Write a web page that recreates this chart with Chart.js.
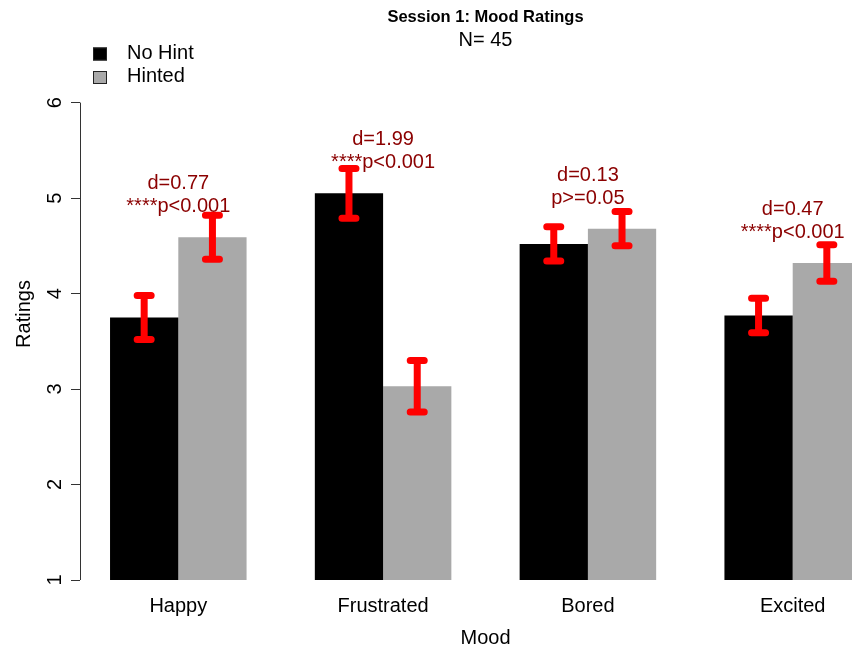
<!DOCTYPE html>
<html>
<head>
<meta charset="utf-8">
<title>Session 1: Mood Ratings</title>
<script src="https://cdn.jsdelivr.net/npm/chart.js@4/dist/chart.umd.min.js"></script>
<style>
  html, body { margin: 0; padding: 0; background: #ffffff; overflow: hidden; width: 852px; height: 650px; }
  #wrap { width: 900px; height: 650px; }
  canvas { display: block; }
</style>
</head>
<body>
<div id="wrap"><canvas id="chart" width="900" height="650"></canvas></div>
<script>
// ---- data ----
const categories   = ['Happy', 'Frustrated', 'Bored', 'Excited'];
const seriesLabels = ['No Hint', 'Hinted'];
const noHintMeans  = [3.75, 5.05, 4.52, 3.77];
const hintedMeans  = [4.59, 3.03, 4.68, 4.32];
const noHintSE     = [0.23, 0.26, 0.18, 0.18];
const hintedSE     = [0.23, 0.27, 0.18, 0.19];
const effectSizes  = ['0.77', '1.99', '0.13', '0.47'];
const pLabels      = ['p<0.001', 'p<0.001', 'p>=0.05', 'p<0.001'];
const sigStars     = ['****', '****', '', '****'];
const yTicks       = [1, 2, 3, 4, 5, 6];

// ---- layout (barplot units: bars 1 wide, one bar-width gap before each group) ----
const GAP = 1;
const groupCenter = i => i * (2 + GAP) + GAP + 1;
const X_MIN = 0.56, X_MAX = 12.44;
const Y_MIN = 1, Y_MAX = 6.572;
const D_OFFSET = 0.56, P_OFFSET = 0.32;   // label heights above the taller bar
const FONT = '"Liberation Sans", Arial, sans-serif';
const TEXT_RED = '#8B0000';

Chart.defaults.font.family = FONT;
Chart.defaults.color = '#000000';

// Effect size and significance labels over each pair of bars
const effectLabels = {
  id: 'effectLabels',
  afterDatasetsDraw(chart) {
    const { ctx, scales: { y } } = chart;
    const m0 = chart.getDatasetMeta(0), m1 = chart.getDatasetMeta(1);
    ctx.save();
    ctx.fillStyle = TEXT_RED;
    ctx.textBaseline = 'middle';
    ctx.textAlign = 'center';
    ctx.font = '20px ' + FONT;
    categories.forEach((c, j) => {
      const cx = (m0.data[j].x + m1.data[j].x) / 2;
      const top = Math.max(noHintMeans[j], hintedMeans[j]);
      ctx.fillText('d=' + effectSizes[j], cx, y.getPixelForValue(top + D_OFFSET));
      ctx.fillText(sigStars[j] + pLabels[j], cx, y.getPixelForValue(top + P_OFFSET));
    });
    ctx.restore();
  }
};

// Standard-error bars with flat caps
const errorBars = {
  id: 'errorBars',
  afterDatasetsDraw(chart) {
    const { ctx, scales: { y } } = chart;
    const half = 7;
    ctx.save();
    ctx.strokeStyle = '#FF0000';
    ctx.lineWidth = 7;
    ctx.lineCap = 'round';
    chart.data.datasets.forEach((ds, d) => {
      const meta = chart.getDatasetMeta(d);
      meta.data.forEach((bar, j) => {
        const m = ds.data[j].y, e = ds.se[j];
        const yt = y.getPixelForValue(m + e), yb = y.getPixelForValue(m - e);
        ctx.beginPath();
        ctx.moveTo(bar.x, yt); ctx.lineTo(bar.x, yb);
        ctx.moveTo(bar.x - half, yt); ctx.lineTo(bar.x + half, yt);
        ctx.moveTo(bar.x - half, yb); ctx.lineTo(bar.x + half, yb);
        ctx.stroke();
      });
    });
    ctx.restore();
  }
};

// Axis line spanning the labelled ticks only
const yAxisLine = {
  id: 'yAxisLine',
  afterDraw(chart) {
    const { ctx, chartArea, scales: { y } } = chart;
    const x = Math.round(chartArea.left) + 0.5;
    ctx.save();
    ctx.strokeStyle = '#333333';
    ctx.lineWidth = 1;
    ctx.beginPath();
    ctx.moveTo(x, y.getPixelForValue(yTicks[0]));
    ctx.lineTo(x, y.getPixelForValue(yTicks[yTicks.length - 1]));
    ctx.stroke();
    ctx.restore();
  }
};

// Legend in the top-left corner of the plot
const boxLegend = {
  id: 'boxLegend',
  afterDraw(chart) {
    const { ctx, chartArea } = chart;
    ctx.save();
    ctx.font = '20px ' + FONT;
    ctx.textBaseline = 'middle';
    ctx.textAlign = 'left';
    chart.data.datasets.forEach((ds, i) => {
      const cy = chartArea.top + 6 + i * 23.5;
      const bx = chartArea.left + 13;
      ctx.fillStyle = ds.backgroundColor;
      ctx.fillRect(bx, cy - 6.5, 14, 13);
      ctx.strokeStyle = '#222222';
      ctx.lineWidth = 1;
      ctx.strokeRect(bx + 0.5, cy - 6, 13, 12);
      ctx.fillStyle = '#000000';
      ctx.fillText(ds.label, chartArea.left + 47, cy - 1);
    });
    ctx.restore();
  }
};

new Chart(document.getElementById('chart'), {
  type: 'bar',
  data: {
    datasets: [
      {
        label: seriesLabels[0],
        data: noHintMeans.map((v, i) => ({ x: groupCenter(i), y: v })),
        se: noHintSE,
        backgroundColor: '#000000'
      },
      {
        label: seriesLabels[1],
        data: hintedMeans.map((v, i) => ({ x: groupCenter(i), y: v })),
        se: hintedSE,
        backgroundColor: '#A9A9A9'
      }
    ]
  },
  options: {
    responsive: false,
    animation: false,
    events: [],
    categoryPercentage: 2 / (2 + GAP),
    barPercentage: 1,
    layout: { padding: { top: 0, right: 9, bottom: 0, left: 0 } },
    plugins: {
      legend: { display: false },
      tooltip: { enabled: false },
      title: {
        display: true,
        text: 'Session 1: Mood Ratings',
        fullSize: false,
        color: '#000000',
        font: { size: 16.5, weight: 'bold', lineHeight: '19.2px' },
        padding: { top: 8, bottom: 0 }
      },
      subtitle: {
        display: true,
        text: 'N= 45',
        fullSize: false,
        color: '#000000',
        font: { size: 20, lineHeight: '16px' },
        padding: { top: 4.8, bottom: 0 }
      }
    },
    scales: {
      x: {
        type: 'linear',
        min: X_MIN,
        max: X_MAX,
        bounds: 'data',
        offset: false,
        grid: { display: false, drawTicks: false },
        border: { display: false },
        afterBuildTicks: s => { s.ticks = categories.map((c, i) => ({ value: groupCenter(i) })); },
        afterFit: s => { s.height = 70; },
        ticks: {
          autoSkip: false,
          maxRotation: 0,
          padding: 14,
          font: { size: 20 },
          color: '#000000',
          callback: (v, i) => categories[i]
        },
        title: {
          display: true,
          text: 'Mood',
          color: '#000000',
          font: { size: 20 },
          padding: { top: 0, bottom: 0 }
        }
      },
      y: {
        min: Y_MIN,
        max: Y_MAX,
        bounds: 'data',
        grid: { display: true, drawOnChartArea: false, drawTicks: true, tickLength: 9, color: '#333333' },
        border: { display: false },
        afterBuildTicks: s => { s.ticks = yTicks.map(v => ({ value: v })); },
        afterFit: s => { s.width = 80; },
        ticks: {
          minRotation: 90,
          maxRotation: 90,
          crossAlign: 'center',
          padding: 10,
          font: { size: 20 },
          color: '#000000'
        },
        title: {
          display: true,
          text: 'Ratings',
          color: '#000000',
          font: { size: 20 },
          padding: { top: 12, bottom: 0 }
        }
      }
    }
  },
  plugins: [effectLabels, errorBars, yAxisLine, boxLegend]
});
</script>
</body>
</html>
